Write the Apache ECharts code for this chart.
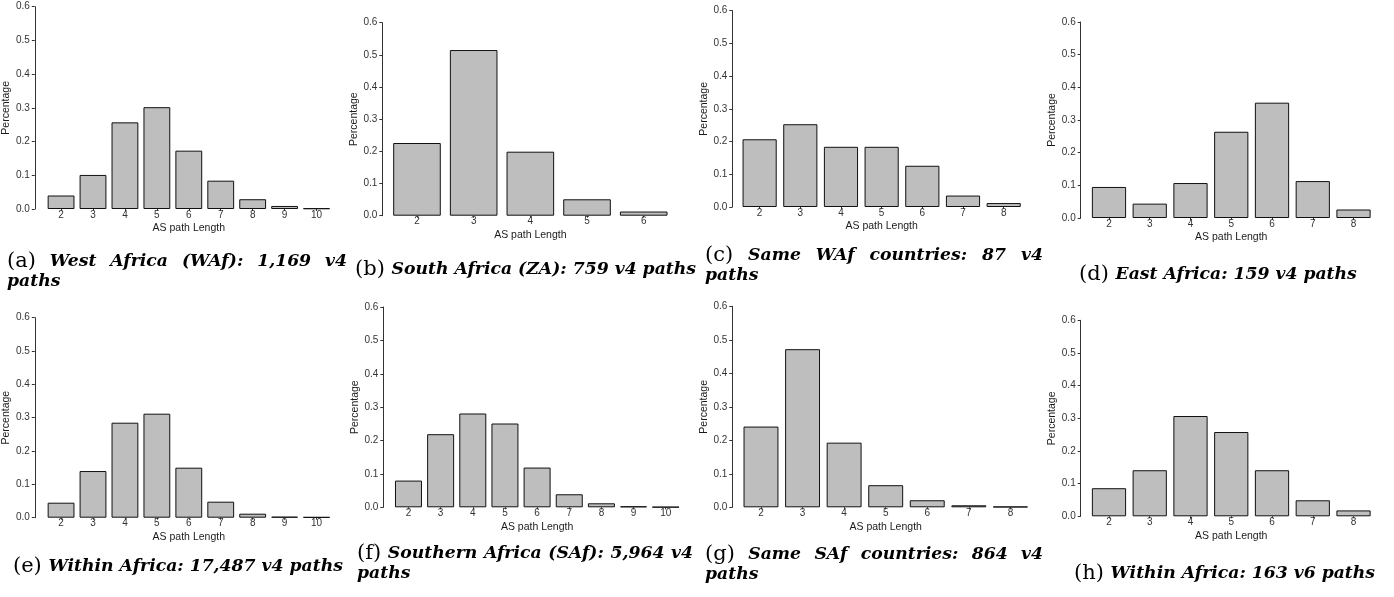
<!DOCTYPE html>
<html>
<head>
<meta charset="utf-8">
<script src="https://cdn.jsdelivr.net/npm/echarts@6/dist/echarts.min.js"></script>
<style>
html,body{margin:0;padding:0;background:#fff;}
#chart{width:1394px;height:597px;}
</style>
</head>
<body>
<div id="chart"></div>
<script>
// ---------- DATA ----------
const wafCats = ['2','3','4','5','6','7','8','9','10'];
const wafVals = [0.040, 0.101, 0.257, 0.302, 0.173, 0.084, 0.029, 0.009, 0.002];

const zaCats = ['2','3','4','5','6'];
const zaVals = [0.226, 0.515, 0.199, 0.051, 0.013];

const sameWafCats = ['2','3','4','5','6','7','8'];
const sameWafVals = [0.207, 0.253, 0.184, 0.184, 0.126, 0.035, 0.012];

const eastCats = ['2','3','4','5','6','7','8'];
const eastVals = [0.095, 0.044, 0.107, 0.264, 0.353, 0.113, 0.026];

const withinCats = ['2','3','4','5','6','7','8','9','10'];
const withinVals = [0.045, 0.140, 0.285, 0.312, 0.150, 0.048, 0.012, 0.003, 0.002];

const safCats = ['2','3','4','5','6','7','8','9','10'];
const safVals = [0.080, 0.219, 0.281, 0.251, 0.119, 0.039, 0.012, 0.003, 0.001];

const sameSafCats = ['2','3','4','5','6','7','8'];
const sameSafVals = [0.241, 0.472, 0.193, 0.066, 0.021, 0.006, 0.002];

const v6Cats = ['2','3','4','5','6','7','8'];
const v6Vals = [0.086, 0.141, 0.307, 0.258, 0.141, 0.049, 0.018];

const yTicks = [0.0, 0.1, 0.2, 0.3, 0.4, 0.5, 0.6];
const xTitle = 'AS path Length';
const yTitle = 'Percentage';

const captions = [
  ['(a)', 'West Africa (WAf): 1,169 v4 paths'],
  ['(b)', 'South Africa (ZA): 759 v4 paths'],
  ['(c)', 'Same WAf countries: 87 v4 paths'],
  ['(d)', 'East Africa: 159 v4 paths'],
  ['(e)', 'Within Africa: 17,487 v4 paths'],
  ['(f)', 'Southern Africa (SAf): 5,964 v4 paths'],
  ['(g)', 'Same SAf countries: 864 v4 paths'],
  ['(h)', 'Within Africa: 163 v6 paths']
];

const panels = [
  [wafCats, wafVals], [zaCats, zaVals], [sameWafCats, sameWafVals], [eastCats, eastVals],
  [withinCats, withinVals], [safCats, safVals], [sameSafCats, sameSafVals], [v6Cats, v6Vals]
];

// ---------- LAYOUT (pixel positions) ----------
const layout = [
  {axisX: 33.3,   left: 43.6,   width: 288.9, top: 6.7,   height: 202.3},
  {axisX: 382.3,  left: 388.65, width: 283.4, top: 22.7,  height: 193},
  {axisX: 732.3,  left: 739.3,  width: 284.7, top: 10.7,  height: 196.3},
  {axisX: 1080.7, left: 1088.6, width: 285.3, top: 22,    height: 196},
  {axisX: 33.3,   left: 43.6,   width: 288.9, top: 317.7, height: 200},
  {axisX: 383.3,  left: 392.4,  width: 289.4, top: 307,   height: 200.3},
  {axisX: 732.3,  left: 740.2,  width: 291,   top: 306.3, height: 201},
  {axisX: 1080.7, left: 1088.6, width: 285.3, top: 320.3, height: 196}
];
const capLayout = [
  {x: 7,    x1: 347,  y: 262, wrap: true},
  {x: 355,  x1: 692,  y: 270, wrap: false},
  {x: 705,  x1: 1043, y: 256, wrap: true},
  {x: 1079, x1: 1364, y: 275, wrap: false},
  {x: 13,   x1: 340,  y: 567, wrap: false},
  {x: 357,  x1: 693,  y: 554, wrap: true},
  {x: 705,  x1: 1043, y: 555, wrap: true},
  {x: 1074, x1: 1374, y: 574, wrap: false}
];

const labelFont = '21px "DejaVu Serif", serif';
const bodyFam = '"DejaVu Serif", serif';
const lineH = 20;
const sansFam = '"Liberation Sans", Arial, sans-serif';

const cv = document.createElement('canvas').getContext('2d');
function tw(text, font) { cv.font = font; return cv.measureText(text).width; }
function bf(sz) { return 'italic bold ' + sz.toFixed(2) + 'px ' + bodyFam; }

// common body size fitted to the single-line captions' widths
let sizes = [];
captions.forEach((c, i) => {
  const C = capLayout[i];
  if (!C.wrap) {
    const avail = C.x1 - C.x - tw(c[0] + ' ', labelFont);
    sizes.push(20 * avail / tw(c[1], bf(20)));
  }
});
const bodySize = sizes.reduce((a, b) => a + b, 0) / sizes.length;
const bodyFont = bf(bodySize);

const grids = [], xAxes = [], yAxes = [], series = [], graphics = [];

panels.forEach((p, i) => {
  const L = layout[i];
  grids.push({left: L.left, width: L.width, top: L.top, height: L.height, containLabel: false});
  xAxes.push({
    type: 'category', gridIndex: i, data: p[0],
    boundaryGap: true,
    axisLine: {show: false},
    axisTick: {show: true, alignWithLabel: true, length: 2, lineStyle: {color: '#333', width: 1}},
    axisLabel: {fontSize: 10, color: '#333', margin: 1, fontFamily: sansFam},
    name: xTitle, nameLocation: 'middle', nameGap: 14,
    nameTextStyle: {fontSize: 10.5, color: '#1a1a1a', fontFamily: sansFam}
  });
  yAxes.push({
    type: 'value', gridIndex: i, min: yTicks[0], max: yTicks[yTicks.length - 1], interval: 0.1,
    offset: L.left - L.axisX,
    axisLine: {show: true, lineStyle: {color: '#333', width: 1}},
    axisTick: {show: true, length: 3, lineStyle: {color: '#333'}},
    splitLine: {show: false},
    axisLabel: {fontSize: 10, color: '#333', margin: 5, fontFamily: sansFam,
      formatter: v => v.toFixed(1)},
    name: yTitle, nameLocation: 'middle', nameGap: 18, nameRotate: 90,
    nameTextStyle: {fontSize: 10.5, color: '#1a1a1a', fontFamily: sansFam}
  });
  series.push({
    type: 'bar', xAxisIndex: i, yAxisIndex: i, data: p[1],
    barCategoryGap: '16%',
    itemStyle: {color: '#bebebe', borderColor: '#111', borderWidth: 1},
    silent: true, animation: false
  });

  // caption
  const C = capLayout[i];
  const lab = captions[i][0];
  const words = captions[i][1].split(' ');
  if (C.wrap) {
    const line1 = words.slice(0, words.length - 1);
    const line2 = words[words.length - 1];
    const widths = [tw(lab, labelFont)].concat(line1.map(w => tw(w, bodyFont)));
    const total = widths.reduce((a, b) => a + b, 0);
    const gap = (C.x1 - C.x - total) / line1.length;
    let x = C.x;
    graphics.push({type: 'text', x: x, y: C.y, style: {text: lab, font: labelFont, fill: '#000', verticalAlign: 'middle'}});
    x += widths[0] + gap;
    line1.forEach((w, k) => {
      graphics.push({type: 'text', x: x, y: C.y, style: {text: w, font: bodyFont, fill: '#000', verticalAlign: 'middle'}});
      x += widths[k + 1] + gap;
    });
    graphics.push({type: 'text', x: C.x, y: C.y + lineH, style: {text: line2, font: bodyFont, fill: '#000', verticalAlign: 'middle'}});
  } else {
    const lw = tw(lab + ' ', labelFont);
    graphics.push({type: 'text', x: C.x, y: C.y, style: {text: lab, font: labelFont, fill: '#000', verticalAlign: 'middle'}});
    graphics.push({type: 'text', x: C.x + lw, y: C.y, style: {text: captions[i][1], font: bodyFont, fill: '#000', verticalAlign: 'middle'}});
  }
});

const chart = echarts.init(document.getElementById('chart'), null, {renderer: 'canvas'});
chart.setOption({
  animation: false,
  backgroundColor: '#fff',
  grid: grids, xAxis: xAxes, yAxis: yAxes, series: series,
  graphic: graphics
});
</script>
</body>
</html>
